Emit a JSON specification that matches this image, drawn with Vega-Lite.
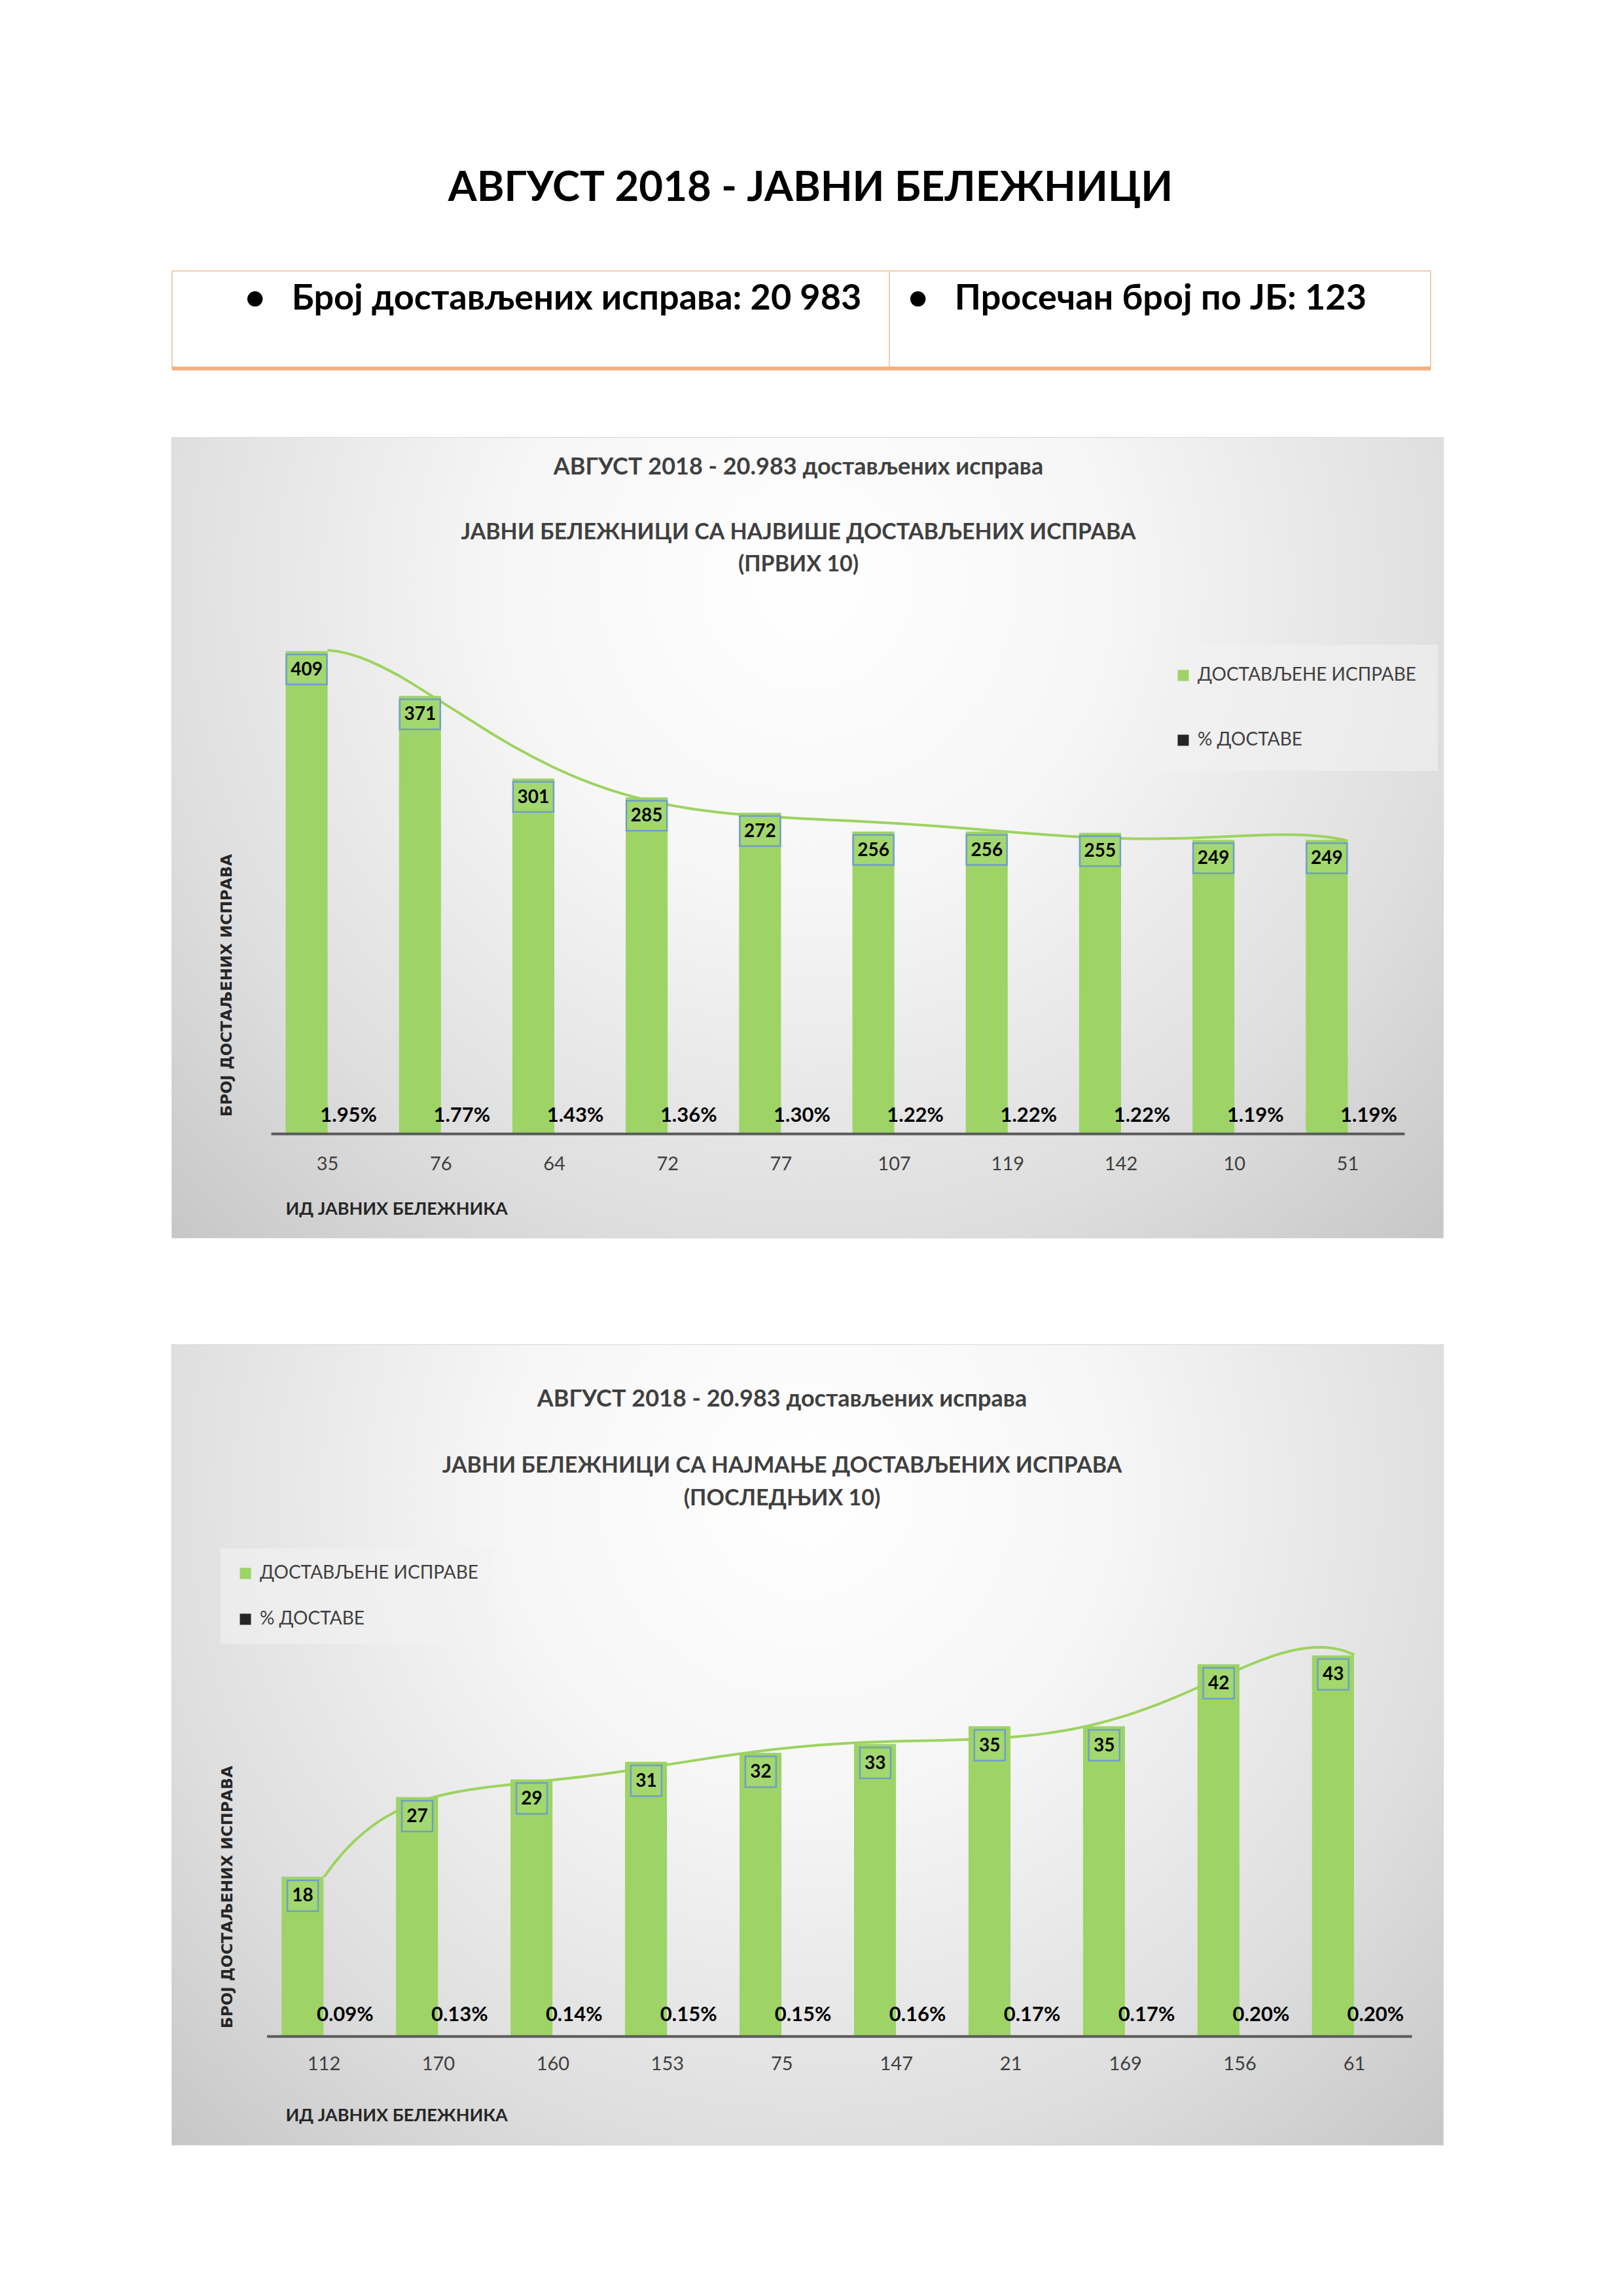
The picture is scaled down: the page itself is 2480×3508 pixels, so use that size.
{
  "$schema": "https://vega.github.io/schema/vega-lite/v6.json",
  "background": "#ffffff",
  "padding": {"left": 259, "top": 255, "right": 279, "bottom": 100},
  "title": {"text": "АВГУСТ 2018 - ЈАВНИ БЕЛЕЖНИЦИ", "fontSize": 63.5, "fontWeight": "bold", "color": "#000000", "anchor": "middle", "offset": 92, "dx": 6, "font": "Lato"},
  "datasets": {
    "table": [
      {"cell": 1, "label": "•\u2003Број достављених исправа: 20 983"},
      {"cell": 2, "label": "•\u2003Просечан број по ЈБ: 123"}
    ],
    "top": [
      {"id": "35", "series": "ДОСТАВЉЕНЕ ИСПРАВЕ", "value": 409}, {"id": "35", "series": "% ДОСТАВЕ", "value": 0.0195},
      {"id": "76", "series": "ДОСТАВЉЕНЕ ИСПРАВЕ", "value": 371}, {"id": "76", "series": "% ДОСТАВЕ", "value": 0.0177},
      {"id": "64", "series": "ДОСТАВЉЕНЕ ИСПРАВЕ", "value": 301}, {"id": "64", "series": "% ДОСТАВЕ", "value": 0.0143},
      {"id": "72", "series": "ДОСТАВЉЕНЕ ИСПРАВЕ", "value": 285}, {"id": "72", "series": "% ДОСТАВЕ", "value": 0.0136},
      {"id": "77", "series": "ДОСТАВЉЕНЕ ИСПРАВЕ", "value": 272}, {"id": "77", "series": "% ДОСТАВЕ", "value": 0.0130},
      {"id": "107", "series": "ДОСТАВЉЕНЕ ИСПРАВЕ", "value": 256}, {"id": "107", "series": "% ДОСТАВЕ", "value": 0.0122},
      {"id": "119", "series": "ДОСТАВЉЕНЕ ИСПРАВЕ", "value": 256}, {"id": "119", "series": "% ДОСТАВЕ", "value": 0.0122},
      {"id": "142", "series": "ДОСТАВЉЕНЕ ИСПРАВЕ", "value": 255}, {"id": "142", "series": "% ДОСТАВЕ", "value": 0.0122},
      {"id": "10", "series": "ДОСТАВЉЕНЕ ИСПРАВЕ", "value": 249}, {"id": "10", "series": "% ДОСТАВЕ", "value": 0.0119},
      {"id": "51", "series": "ДОСТАВЉЕНЕ ИСПРАВЕ", "value": 249}, {"id": "51", "series": "% ДОСТАВЕ", "value": 0.0119}
    ],
    "bottom": [
      {"id": "112", "series": "ДОСТАВЉЕНЕ ИСПРАВЕ", "value": 18}, {"id": "112", "series": "% ДОСТАВЕ", "value": 0.0009},
      {"id": "170", "series": "ДОСТАВЉЕНЕ ИСПРАВЕ", "value": 27}, {"id": "170", "series": "% ДОСТАВЕ", "value": 0.0013},
      {"id": "160", "series": "ДОСТАВЉЕНЕ ИСПРАВЕ", "value": 29}, {"id": "160", "series": "% ДОСТАВЕ", "value": 0.0014},
      {"id": "153", "series": "ДОСТАВЉЕНЕ ИСПРАВЕ", "value": 31}, {"id": "153", "series": "% ДОСТАВЕ", "value": 0.0015},
      {"id": "75", "series": "ДОСТАВЉЕНЕ ИСПРАВЕ", "value": 32}, {"id": "75", "series": "% ДОСТАВЕ", "value": 0.0015},
      {"id": "147", "series": "ДОСТАВЉЕНЕ ИСПРАВЕ", "value": 33}, {"id": "147", "series": "% ДОСТАВЕ", "value": 0.0016},
      {"id": "21", "series": "ДОСТАВЉЕНЕ ИСПРАВЕ", "value": 35}, {"id": "21", "series": "% ДОСТАВЕ", "value": 0.0017},
      {"id": "169", "series": "ДОСТАВЉЕНЕ ИСПРАВЕ", "value": 35}, {"id": "169", "series": "% ДОСТАВЕ", "value": 0.0017},
      {"id": "156", "series": "ДОСТАВЉЕНЕ ИСПРАВЕ", "value": 42}, {"id": "156", "series": "% ДОСТАВЕ", "value": 0.0020},
      {"id": "61", "series": "ДОСТАВЉЕНЕ ИСПРАВЕ", "value": 43}, {"id": "61", "series": "% ДОСТАВЕ", "value": 0.0020}
    ]
  },
  "spacing": 101,
  "resolve": {"scale": {"color": "independent"}, "legend": {"color": "independent"}},
  "vconcat": [
    {
      "width": 1923,
      "height": 149,
      "data": {"name": "table"},
      "view": {"stroke": "#f8cbad", "strokeWidth": 2},
      "layer": [
        {
          "transform": [{"filter": "datum.cell === 2"}],
          "mark": {"type": "rule", "color": "#f8cbad", "strokeWidth": 2},
          "encoding": {
            "x": {"field": "cell", "type": "nominal", "sort": null, "bandPosition": 0, "axis": null, "scale": {"domain": [1, 2], "range": [0, 2192], "paddingInner": 0, "paddingOuter": 0}}
          }
        },
        {
          "transform": [{"filter": "datum.cell === 1"}],
          "mark": {"type": "rule", "color": "#f4b183", "strokeWidth": 6},
          "encoding": {
            "y": {"datum": 0, "type": "quantitative", "scale": {"domain": [0, 1]}, "axis": null}
          }
        },
        {
          "transform": [{"filter": "datum.cell === 1"}],
          "mark": {"type": "text", "align": "left", "baseline": "middle", "dx": 111, "dy": -32, "fontSize": 54, "fontWeight": "bold", "color": "#000000", "font": "Lato"},
          "encoding": {
            "x": {"field": "cell", "type": "nominal", "sort": null, "bandPosition": 0, "axis": null},
            "text": {"field": "label", "type": "nominal"}
          }
        },
        {
          "transform": [{"filter": "datum.cell === 2"}],
          "mark": {"type": "text", "align": "left", "baseline": "middle", "dx": 28, "dy": -32, "fontSize": 54, "fontWeight": "bold", "color": "#000000", "font": "Lato"},
          "encoding": {
            "x": {"field": "cell", "type": "nominal", "sort": null, "bandPosition": 0, "axis": null},
            "text": {"field": "label", "type": "nominal"}
          }
        }
      ]
    },
    {
      "spacing": 162,
      "resolve": {"scale": {"color": "independent"}, "legend": {"color": "independent"}},
      "vconcat": [
        {
          "width": 1942,
          "height": 1222,
          "data": {"name": "top"},
          "view": {"stroke": "#d6d6d6", "strokeWidth": 2},
          "resolve": {"scale": {"x": "independent"}},
          "title": {
            "text": "АВГУСТ 2018 - 20.983 достављених исправа",
            "subtitle": ["ЈАВНИ БЕЛЕЖНИЦИ СА НАЈВИШЕ ДОСТАВЉЕНИХ ИСПРАВА", "(ПРВИХ 10)"],
            "anchor": "middle", "offset": -212, "dx": -14,
            "font": "Lato", "fontSize": 36, "fontWeight": "bold", "color": "#404040",
            "subtitleFont": "Lato", "subtitleFontSize": 34, "subtitleFontWeight": "bold", "subtitleColor": "#404040",
            "subtitlePadding": 64, "subtitleLineHeight": 49
          },
          "layer": [
            {
              "data": {"values": [{}]},
              "mark": {"type": "rect", "fill": {"gradient": "radial", "x1": 0.5, "y1": 0.3, "r1": 0, "x2": 0.5, "y2": 0.3, "r2": 0.8, "stops": [{"offset": 0, "color": "#ffffff"}, {"offset": 0.3, "color": "#f6f6f6"}, {"offset": 0.65, "color": "#dedede"}, {"offset": 1, "color": "#bdbdbd"}]}},
              "encoding": {}
            },
            {
              "mark": {"type": "bar"},
              "encoding": {
                "x": {
                  "field": "id", "type": "nominal", "sort": null,
                  "scale": {"type": "band", "domain": ["35", "76", "64", "72", "77", "107", "119", "142", "10", "51"], "range": [151, 1883], "paddingInner": 0.26, "paddingOuter": 0.13},
                  "axis": {"orient": "bottom", "zindex": 1, "offset": -159, "title": "ИД ЈАВНИХ БЕЛЕЖНИКА", "domain": true, "domainColor": "#595959", "domainWidth": 4, "ticks": false, "grid": false, "labelAngle": 0, "labelPadding": 32, "labelFontSize": 29, "labelColor": "#404040", "labelFont": "Lato", "titleX": 173, "titleY": 115, "titleAlign": "left", "titleBaseline": "middle", "titleFont": "Lato", "titleFontSize": 27, "titleFontWeight": "bold", "titleColor": "#262626"}
                },
                "xOffset": {"field": "series", "type": "nominal", "sort": null, "scale": {"domain": ["ДОСТАВЉЕНЕ ИСПРАВЕ", "% ДОСТАВЕ"], "paddingInner": 0, "paddingOuter": 0}},
                "y": {
                  "field": "value", "type": "quantitative",
                  "scale": {"domain": [0, 251.9], "range": [1063, 609], "nice": false},
                  "axis": {"orient": "left", "zindex": 2, "offset": -95, "title": "БРОЈ ДОСТАЉЕНИХ ИСПРАВА", "domain": false, "ticks": false, "labels": true, "labelExpr": "''", "labelPadding": 0, "labelFontSize": 2, "grid": false, "titlePadding": 0, "titleFont": "DejaVu Sans", "titleFontSize": 23.5, "titleFontWeight": "bold", "titleColor": "#262626"}
                },
                "color": {
                  "field": "series", "type": "nominal",
                  "scale": {"domain": ["ДОСТАВЉЕНЕ ИСПРАВЕ", "% ДОСТАВЕ"], "range": ["#9dd465", "#262626"]},
                  "legend": {"title": null, "orient": "none", "legendX": 1498, "legendY": 316, "direction": "vertical", "fillColor": "rgba(242,242,242,0.6)", "padding": 33, "rowPadding": 71, "symbolType": "square", "symbolSize": 289, "symbolStrokeWidth": 0, "labelFont": "Lato", "labelFontSize": 28, "labelColor": "#404040", "labelOffset": 8, "labelLimit": 800, "zindex": 1}
                }
              }
            },
            {
              "transform": [
                {"filter": "datum.series === 'ДОСТАВЉЕНЕ ИСПРАВЕ'"},
                {"window": [{"op": "row_number", "as": "rank"}]},
                {"regression": "value", "on": "rank", "method": "poly", "order": 6}
              ],
              "mark": {"type": "line", "color": "#9dd35f", "strokeWidth": 4},
              "encoding": {
                "x": {"field": "rank", "type": "quantitative", "scale": {"domain": [0.5, 10.5], "range": [151, 1883], "nice": false, "zero": false}, "axis": null},
                "y": {"field": "value", "type": "quantitative"}
              }
            },
            {
              "transform": [{"filter": "datum.series === 'ДОСТАВЉЕНЕ ИСПРАВЕ'"}],
              "mark": {"type": "point", "shape": "M-1,-0.74H1V0.74H-1Z", "size": 3844, "filled": true, "fill": "#a3d76f", "stroke": "#6f9fc6", "strokeWidth": 2.5, "opacity": 1, "fillOpacity": 1, "strokeOpacity": 1, "yOffset": 28},
              "encoding": {
                "x": {"field": "id", "type": "nominal", "sort": null, "bandPosition": 0.25, "axis": null, "scale": {"type": "band", "domain": ["35", "76", "64", "72", "77", "107", "119", "142", "10", "51"], "range": [151, 1883], "paddingInner": 0.26, "paddingOuter": 0.13}},
                "y": {"field": "value", "type": "quantitative"}
              }
            },
            {
              "transform": [{"filter": "datum.series === 'ДОСТАВЉЕНЕ ИСПРАВЕ'"}],
              "mark": {"type": "text", "font": "Lato", "fontSize": 28, "fontWeight": "bold", "color": "#000000", "baseline": "middle", "dy": 29},
              "encoding": {
                "x": {"field": "id", "type": "nominal", "sort": null, "bandPosition": 0.25, "axis": null, "scale": {"type": "band", "domain": ["35", "76", "64", "72", "77", "107", "119", "142", "10", "51"], "range": [151, 1883], "paddingInner": 0.26, "paddingOuter": 0.13}},
                "y": {"field": "value", "type": "quantitative"},
                "text": {"field": "value", "type": "quantitative", "format": "d"}
              }
            },
            {
              "transform": [{"filter": "datum.series === '% ДОСТАВЕ'"}],
              "mark": {"type": "text", "font": "Lato", "fontSize": 31, "fontWeight": "bold", "color": "#000000", "baseline": "middle", "dy": -27},
              "encoding": {
                "x": {"field": "id", "type": "nominal", "sort": null, "bandPosition": 0.75, "axis": null, "scale": {"type": "band", "domain": ["35", "76", "64", "72", "77", "107", "119", "142", "10", "51"], "range": [151, 1883], "paddingInner": 0.26, "paddingOuter": 0.13}},
                "y": {"datum": 0, "type": "quantitative"},
                "text": {"field": "value", "type": "quantitative", "format": ".2%"}
              }
            }
          ]
        },
        {
          "width": 1942,
          "height": 1222,
          "data": {"name": "bottom"},
          "view": {"stroke": "#d6d6d6", "strokeWidth": 2},
          "resolve": {"scale": {"x": "independent"}},
          "title": {
            "text": "АВГУСТ 2018 - 20.983 достављених исправа",
            "subtitle": ["ЈАВНИ БЕЛЕЖНИЦИ СА НАЈМАЊЕ ДОСТАВЉЕНИХ ИСПРАВА", "(ПОСЛЕДЊИХ 10)"],
            "anchor": "middle", "offset": -253, "dx": -39,
            "font": "Lato", "fontSize": 36, "fontWeight": "bold", "color": "#404040",
            "subtitleFont": "Lato", "subtitleFontSize": 34, "subtitleFontWeight": "bold", "subtitleColor": "#404040",
            "subtitlePadding": 66, "subtitleLineHeight": 50
          },
          "layer": [
            {
              "data": {"values": [{}]},
              "mark": {"type": "rect", "fill": {"gradient": "radial", "x1": 0.5, "y1": 0.3, "r1": 0, "x2": 0.5, "y2": 0.3, "r2": 0.8, "stops": [{"offset": 0, "color": "#ffffff"}, {"offset": 0.3, "color": "#f6f6f6"}, {"offset": 0.65, "color": "#dedede"}, {"offset": 1, "color": "#bdbdbd"}]}},
              "encoding": {}
            },
            {
              "mark": {"type": "bar"},
              "encoding": {
                "x": {
                  "field": "id", "type": "nominal", "sort": null,
                  "scale": {"type": "band", "domain": ["112", "170", "160", "153", "75", "147", "21", "169", "156", "61"], "range": [144.5, 1894], "paddingInner": 0.26, "paddingOuter": 0.13},
                  "axis": {"orient": "bottom", "zindex": 1, "offset": -166, "title": "ИД ЈАВНИХ БЕЛЕЖНИКА", "domain": true, "domainColor": "#595959", "domainWidth": 4, "ticks": false, "grid": false, "labelAngle": 0, "labelPadding": 28, "labelFontSize": 29, "labelColor": "#404040", "labelFont": "Lato", "titleX": 173, "titleY": 121, "titleAlign": "left", "titleBaseline": "middle", "titleFont": "Lato", "titleFontSize": 27, "titleFontWeight": "bold", "titleColor": "#262626"}
                },
                "xOffset": {"field": "series", "type": "nominal", "sort": null, "scale": {"domain": ["ДОСТАВЉЕНЕ ИСПРАВЕ", "% ДОСТАВЕ"], "paddingInner": 0, "paddingOuter": 0}},
                "y": {
                  "field": "value", "type": "quantitative",
                  "scale": {"domain": [0, 31.49], "range": [1056, 630], "nice": false},
                  "axis": {"orient": "left", "zindex": 2, "offset": -96, "title": "БРОЈ ДОСТАЉЕНИХ ИСПРАВА", "domain": false, "ticks": false, "labels": true, "labelExpr": "''", "labelPadding": 0, "labelFontSize": 2, "grid": false, "titlePadding": 0, "titleFont": "DejaVu Sans", "titleFontSize": 23.5, "titleFontWeight": "bold", "titleColor": "#262626"}
                },
                "color": {
                  "field": "series", "type": "nominal",
                  "scale": {"domain": ["ДОСТАВЉЕНЕ ИСПРАВЕ", "% ДОСТАВЕ"], "range": ["#9dd465", "#262626"]},
                  "legend": {"title": null, "orient": "none", "legendX": 74, "legendY": 311, "direction": "vertical", "fillColor": "rgba(242,242,242,0.6)", "padding": 24, "rowPadding": 42, "symbolType": "square", "symbolSize": 289, "symbolStrokeWidth": 0, "labelFont": "Lato", "labelFontSize": 28, "labelColor": "#404040", "labelOffset": 8, "labelLimit": 800, "zindex": 1}
                }
              }
            },
            {
              "transform": [
                {"filter": "datum.series === 'ДОСТАВЉЕНЕ ИСПРАВЕ'"},
                {"window": [{"op": "row_number", "as": "rank"}]},
                {"regression": "value", "on": "rank", "method": "poly", "order": 6}
              ],
              "mark": {"type": "line", "color": "#9dd35f", "strokeWidth": 4},
              "encoding": {
                "x": {"field": "rank", "type": "quantitative", "scale": {"domain": [0.5, 10.5], "range": [144.5, 1894], "nice": false, "zero": false}, "axis": null},
                "y": {"field": "value", "type": "quantitative"}
              }
            },
            {
              "transform": [{"filter": "datum.series === 'ДОСТАВЉЕНЕ ИСПРАВЕ'"}],
              "mark": {"type": "point", "shape": "square", "size": 2209, "filled": true, "fill": "#a3d76f", "stroke": "#6f9fc6", "strokeWidth": 2.5, "opacity": 1, "fillOpacity": 1, "strokeOpacity": 1, "yOffset": 29},
              "encoding": {
                "x": {"field": "id", "type": "nominal", "sort": null, "bandPosition": 0.25, "axis": null, "scale": {"type": "band", "domain": ["112", "170", "160", "153", "75", "147", "21", "169", "156", "61"], "range": [144.5, 1894], "paddingInner": 0.26, "paddingOuter": 0.13}},
                "y": {"field": "value", "type": "quantitative"}
              }
            },
            {
              "transform": [{"filter": "datum.series === 'ДОСТАВЉЕНЕ ИСПРАВЕ'"}],
              "mark": {"type": "text", "font": "Lato", "fontSize": 28, "fontWeight": "bold", "color": "#000000", "baseline": "middle", "dy": 30},
              "encoding": {
                "x": {"field": "id", "type": "nominal", "sort": null, "bandPosition": 0.25, "axis": null, "scale": {"type": "band", "domain": ["112", "170", "160", "153", "75", "147", "21", "169", "156", "61"], "range": [144.5, 1894], "paddingInner": 0.26, "paddingOuter": 0.13}},
                "y": {"field": "value", "type": "quantitative"},
                "text": {"field": "value", "type": "quantitative", "format": "d"}
              }
            },
            {
              "transform": [{"filter": "datum.series === '% ДОСТАВЕ'"}],
              "mark": {"type": "text", "font": "Lato", "fontSize": 31, "fontWeight": "bold", "color": "#000000", "baseline": "middle", "dy": -32},
              "encoding": {
                "x": {"field": "id", "type": "nominal", "sort": null, "bandPosition": 0.75, "axis": null, "scale": {"type": "band", "domain": ["112", "170", "160", "153", "75", "147", "21", "169", "156", "61"], "range": [144.5, 1894], "paddingInner": 0.26, "paddingOuter": 0.13}},
                "y": {"datum": 0, "type": "quantitative"},
                "text": {"field": "value", "type": "quantitative", "format": ".2%"}
              }
            }
          ]
        }
      ]
    }
  ],
  "config": {
    "font": "Lato",
    "view": {"stroke": null},
    "axis": {"labelFont": "Lato", "titleFont": "Lato"},
    "legend": {"labelFont": "Lato"},
    "title": {"font": "Lato", "subtitleFont": "Lato"}
  }
}
